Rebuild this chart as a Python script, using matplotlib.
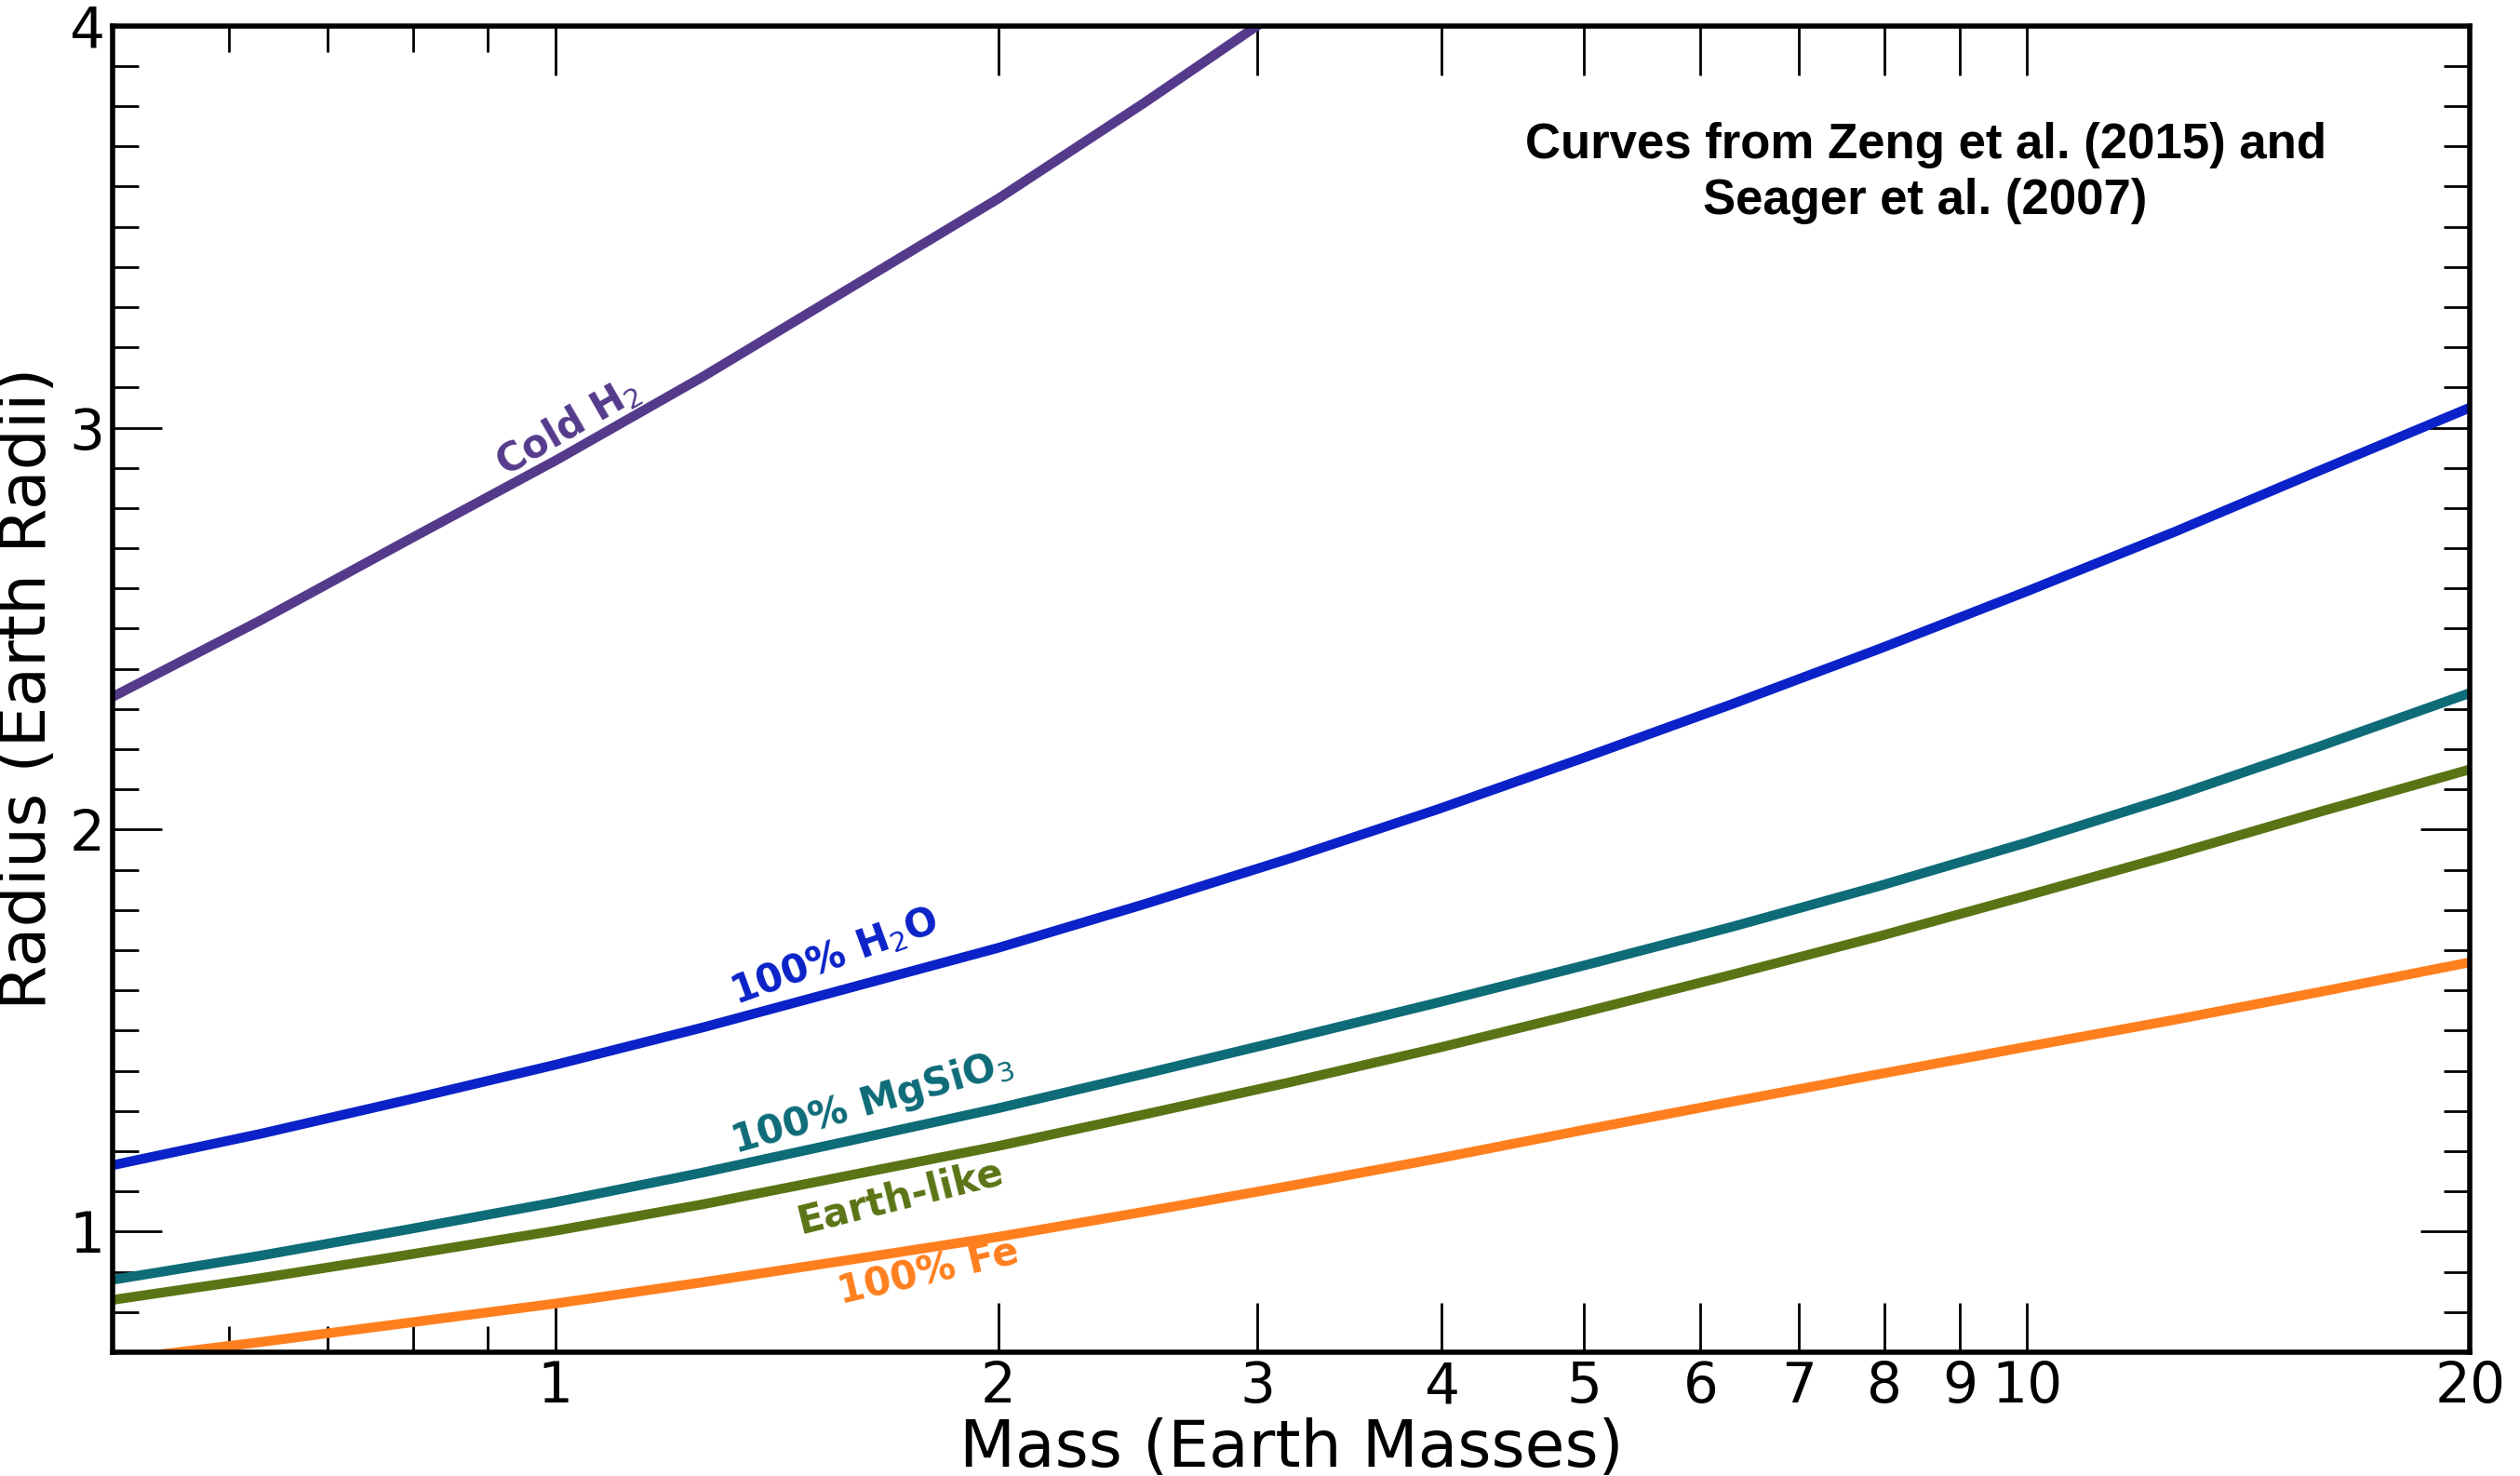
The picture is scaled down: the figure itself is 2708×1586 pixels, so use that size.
import matplotlib
matplotlib.use("Agg")
import matplotlib.pyplot as plt
from matplotlib.ticker import FixedLocator, NullFormatter, FixedFormatter

# Mass (Earth masses) and radius (Earth radii)
mass_h2 = [0.5, 0.63, 0.79, 1.0, 1.26, 1.58, 2.0, 2.51, 3.16]
radius_h2 = [2.33, 2.52, 2.716, 2.918, 3.127, 3.344, 3.570, 3.807, 4.057]

mass_rocky = [0.5, 0.63, 0.79, 1.0, 1.26, 1.58, 2.0, 2.51, 3.16, 3.98, 5.0, 6.3, 7.94, 10.0, 12.6, 15.8, 20.0]
radius_h2o = [1.165, 1.243, 1.326, 1.415, 1.508, 1.605, 1.706, 1.814, 1.929, 2.051, 2.179, 2.312, 2.450, 2.593,
              2.741, 2.893, 3.05]
radius_mgsio3 = [0.88, 0.940, 1.004, 1.073, 1.147, 1.225, 1.307, 1.392, 1.480, 1.570, 1.662, 1.758, 1.860, 1.968,
                 2.084, 2.207, 2.34]
radius_earth = [0.83, 0.884, 0.941, 1.002, 1.068, 1.139, 1.213, 1.291, 1.372, 1.457, 1.546, 1.639, 1.735, 1.836,
                1.939, 2.044, 2.15]
radius_fe = [0.68, 0.725, 0.772, 0.821, 0.874, 0.929, 0.987, 1.049, 1.114, 1.182, 1.253, 1.323, 1.392, 1.460,
             1.527, 1.596, 1.67]

x_major = [1, 2, 3, 4, 5, 6, 7, 8, 9, 10, 20]
x_minor = [0.6, 0.7, 0.8, 0.9]
y_major = [1, 2, 3, 4]

plt.rcParams['font.family'] = ['DejaVu Sans']

fig = plt.figure(figsize=(27.08, 15.86), dpi=100)
ax = fig.add_axes([0.0446, 0.0839, 0.9356, 0.8987])

ax.plot(mass_h2, radius_h2, color='#553a8c', lw=7.5, solid_capstyle='butt')
ax.plot(mass_rocky, radius_h2o, color='#0a22c8', lw=7.5)
ax.plot(mass_rocky, radius_mgsio3, color='#0e6b78', lw=7.5)
ax.plot(mass_rocky, radius_earth, color='#5a7415', lw=7.5)
ax.plot(mass_rocky, radius_fe, color='#ff7f1e', lw=7.5)

ax.set_xscale('log')
ax.set_xlim(0.5, 20)
ax.set_ylim(0.7, 4)

ax.xaxis.set_major_locator(FixedLocator(x_major))
ax.xaxis.set_major_formatter(FixedFormatter([str(v) for v in x_major]))
ax.xaxis.set_minor_locator(FixedLocator(x_minor))
ax.xaxis.set_minor_formatter(NullFormatter())
ax.yaxis.set_major_locator(FixedLocator(y_major))
ax.yaxis.set_minor_locator(FixedLocator([0.7 + 0.1 * i for i in range(34)]))

ax.tick_params(which='both', direction='in', top=True, right=True, labelsize=43)
ax.tick_params(which='major', length=38, width=2)
ax.tick_params(which='minor', length=20, width=2)
ax.tick_params(axis='x', pad=6)
ax.tick_params(axis='y', pad=6)
for s in ax.spines.values():
    s.set_linewidth(4)

ax.set_xlabel('Mass (Earth Masses)', fontsize=50, labelpad=2)
ax.set_ylabel('Radius (Earth Radii)', fontsize=50, labelpad=8)

lab = dict(fontsize=30, fontweight='bold', ha='center', va='center', transform=ax.transAxes)
ax.text(0.193, 0.698, 'Cold H$_2$', color='#553a8c', rotation=30, **lab)
ax.text(0.306, 0.298, '100% H$_2$O', color='#0a22c8', rotation=20, **lab)
ax.text(0.322, 0.188, '100% MgSiO$_3$', color='#0e6b78', rotation=16, **lab)
ax.text(0.334, 0.117, 'Earth-like', color='#5a7415', rotation=14, **lab)
ax.text(0.346, 0.060, '100% Fe', color='#ff7f1e', rotation=13, **lab)

ax.text(0.769, 0.889, 'Curves from Zeng et al. (2015) and\nSeager et al. (2007)',
        transform=ax.transAxes, ha='center', va='center', fontsize=38,
        fontweight='bold', family='Liberation Sans', linespacing=1.25)

fig.savefig('out.png', dpi=100)
